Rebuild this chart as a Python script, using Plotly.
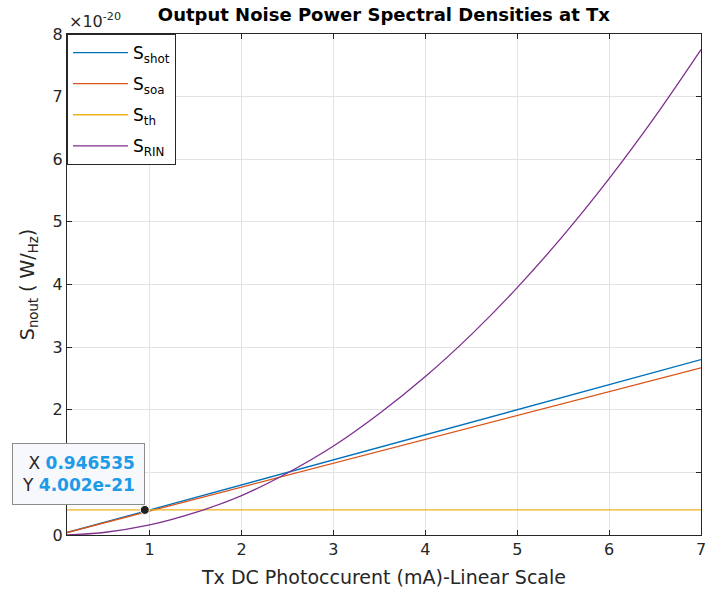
import plotly.graph_objects as go

# Values in units of 1e-20 W/Hz
x_lin = [0.1, 7.0]
s_shot = [0.04, 2.80]
s_soa = [0.04, 2.67]
s_th = [0.4002, 0.4002]

x_rin = [0.1, 0.5, 1.0, 1.5, 2.0, 2.5, 3.0, 3.5, 4.0, 4.5, 5.0, 5.5, 6.0, 6.5, 7.0]
s_rin = [0.002, 0.04, 0.16, 0.36, 0.63, 0.99, 1.42, 1.94, 2.53, 3.20, 3.95, 4.78, 5.69, 6.68, 7.75]

tip_x = 0.946535
tip_y = 0.4002  # 4.002e-21

x_ticks = [1, 2, 3, 4, 5, 6, 7]
y_ticks = [0, 1, 2, 3, 4, 5, 6, 7, 8]

colors = ["#0072BD", "#D95319", "#EDB120", "#7E2F8E"]
font = "DejaVu Sans, Arial, sans-serif"

fig = go.Figure()
names = ["S<sub>shot</sub>", "S<sub>soa</sub>", "S<sub>th</sub>", "S<sub>RIN</sub>"]
xs = [x_lin, x_lin, x_lin, x_rin]
ys = [s_shot, s_soa, s_th, s_rin]
for i in range(4):
    fig.add_trace(go.Scatter(x=xs[i], y=ys[i], mode="lines", name=names[i],
                             legendgroup=f"g{i}",
                             line=dict(color=colors[i], width=1.3,
                                       shape="spline" if i == 3 else "linear")))
fig.add_trace(go.Scatter(x=[tip_x], y=[tip_y], mode="markers", showlegend=False,
                         marker=dict(color="#222222", size=9, line=dict(color="white", width=1))))

axis_common = dict(showgrid=True, gridcolor="#e3e3e3", gridwidth=1,
                   showline=True, linecolor="#262626", linewidth=1, mirror="ticks",
                   ticks="inside", ticklen=5, tickcolor="#262626", zeroline=False,
                   automargin=False, ticklabeloverflow="allow",
                   tickfont=dict(family=font, size=16, color="#262626"))

fig.update_xaxes(range=[0.1, 7], tickvals=x_ticks,
                 title=dict(text="Tx DC Photoccurent (mA)-Linear Scale",
                            font=dict(family=font, size=19, color="#262626"), standoff=12),
                 **axis_common)
fig.update_yaxes(range=[0, 8], tickvals=y_ticks,
                 title=dict(text="S<sub>nout</sub> ( W/<sub>Hz</sub>)",
                            font=dict(family=font, size=19, color="#262626"), standoff=12),
                 **axis_common)

fig.update_layout(
    width=707, height=598,
    margin=dict(l=67, r=6, t=34, b=63),
    paper_bgcolor="white", plot_bgcolor="white",
    title=dict(text="<b>Output Noise Power Spectral Densities at Tx</b>",
               font=dict(family=font, size=18, color="black"),
               x=0.543, xanchor="center", y=0.975, yanchor="middle"),
    legend=dict(x=0, y=1, xanchor="left", yanchor="top",
                bgcolor="white", bordercolor="#262626", borderwidth=1,
                font=dict(family=font, size=17, color="black"),
                tracegroupgap=6, itemwidth=55),
    showlegend=True,
    annotations=[
        dict(text="×10<sup>-20</sup>", xref="paper", yref="paper", x=0, y=1,
             xanchor="left", yanchor="bottom", showarrow=False, yshift=1,
             font=dict(family=font, size=16, color="#262626")),
        dict(text="X <b><span style='color:#1e9be8'>0.946535</span></b><br>"
                  "Y <b><span style='color:#1e9be8'>4.002e-21</span></b>",
             x=tip_x, y=tip_y, xref="x", yref="y", showarrow=True,
             arrowcolor="rgba(0,0,0,0)", ax=-66, ay=-36, align="right",
             bgcolor="#f7f8fb", bordercolor="#8c8c8c", borderwidth=1, borderpad=9,
             font=dict(family=font, size=17, color="#262626")),
    ],
)

fig.write_html("out.html", config={"displayModeBar": False},
               post_script="document.body.style.margin='0';")
